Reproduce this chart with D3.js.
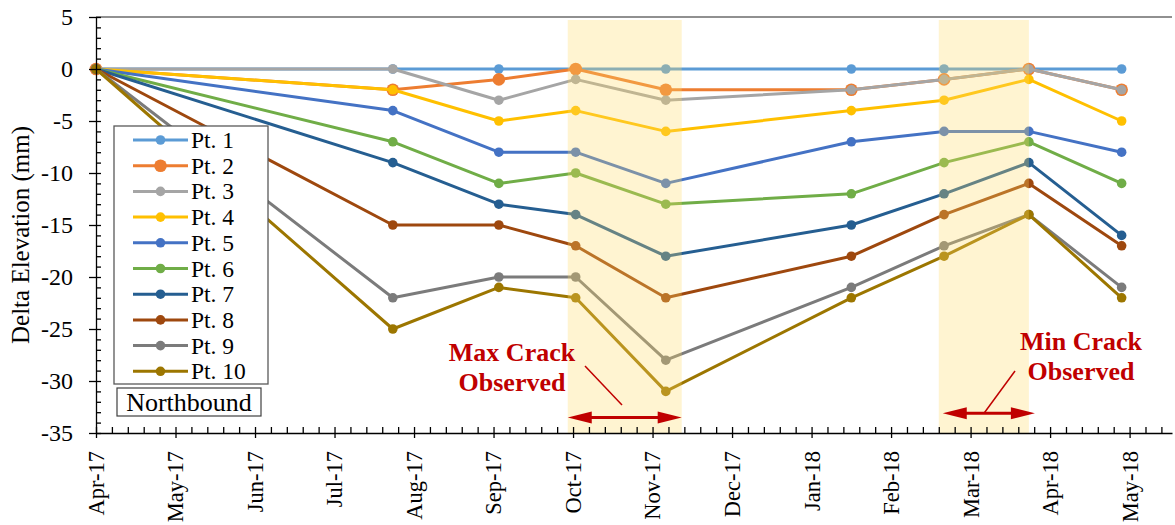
<!DOCTYPE html>
<html lang="en">
<head>
<meta charset="UTF-8">
<title>Delta Elevation - Northbound</title>
<script src="https://d3js.org/d3.v7.min.js"></script>
<style>
    body { margin: 0; background: #fff; }
    svg { display: block; font-family: 'Liberation Serif', 'Times New Roman', serif; }
</style>
</head>
<body>
<svg width="1175" height="525"></svg>
<script>
    // ---- data ----
    var axisStart = "2017-04-15";   // first tick, ticks every 30 days
    var surveyDates = ["2017-04-15", "2017-08-05", "2017-09-14", "2017-10-13", "2017-11-16",
                       "2018-01-25", "2018-03-01", "2018-04-02", "2018-05-07"];
    var seriesNames = ["Pt. 1", "Pt. 2", "Pt. 3", "Pt. 4", "Pt. 5", "Pt. 6", "Pt. 7", "Pt. 8", "Pt. 9", "Pt. 10"];
    var pt1  = [0,   0,   0,   0,   0,   0,   0,   0,   0];
    var pt2  = [0,  -2,  -1,   0,  -2,  -2,  -1,   0,  -2];
    var pt3  = [0,   0,  -3,  -1,  -3,  -2,  -1,   0,  -2];
    var pt4  = [0,  -2,  -5,  -4,  -6,  -4,  -3,  -1,  -5];
    var pt5  = [0,  -4,  -8,  -8, -11,  -7,  -6,  -6,  -8];
    var pt6  = [0,  -7, -11, -10, -13, -12,  -9,  -7, -11];
    var pt7  = [0,  -9, -13, -14, -18, -15, -12,  -9, -16];
    var pt8  = [0, -15, -15, -17, -22, -18, -14, -11, -17];
    var pt9  = [0, -22, -20, -20, -28, -21, -17, -14, -21];
    var pt10 = [0, -25, -21, -22, -31, -22, -18, -14, -22];
    var seriesValues = [pt1, pt2, pt3, pt4, pt5, pt6, pt7, pt8, pt9, pt10];
    var seriesColors = ["#5B9BD5", "#ED7D31", "#A5A5A5", "#FFC000", "#4472C4",
                        "#70AD47", "#255E91", "#9E480E", "#7B7B7B", "#9C7600"];
    var crackWindows = [["2017-10-10", "2017-11-22"], ["2018-02-27", "2018-04-02"]];
    var crackLabels = [["Max Crack", "Observed"], ["Min Crack", "Observed"]];
    var yTicks = d3.range(-35, 6, 5);

    var parse = d3.timeParse("%Y-%m-%d");
    var start = parse(axisStart);
    var dates = surveyDates.map(parse);

    var svg = d3.select("svg");
    var plotL = 96, plotR = 1172, plotT = 17, plotB = 433;

    var x = d3.scaleTime()
        .domain([start, d3.timeDay.offset(start, 406)])
        .range([plotL, plotR]);
    var y = d3.scaleLinear().domain([-35, 5]).range([plotB, plotT]);

    var majorX = d3.range(14).map(function(i) { return d3.timeDay.offset(start, 30 * i); });
    var minorX = d3.range(0, 406, 6).filter(function(d) { return d % 30 !== 0; })
        .map(function(d) { return d3.timeDay.offset(start, d); });
    var minorY = d3.range(-35, 6).filter(function(d) { return d % 5 !== 0; });

    // top border of the plot area
    svg.append("line")
        .attr("x1", plotL).attr("x2", plotR)
        .attr("y1", plotT).attr("y2", plotT)
        .attr("stroke", "#222").attr("stroke-width", 1.2);

    // ---- series ----
    var line = d3.line()
        .x(function(d, i) { return x(dates[i]); })
        .y(function(d) { return y(d); });

    seriesValues.forEach(function(vals, s) {
        var g = svg.append("g");
        g.append("path")
            .attr("d", line(vals))
            .attr("fill", "none")
            .attr("stroke", seriesColors[s])
            .attr("stroke-width", 3)
            .attr("stroke-linejoin", "round");
        g.selectAll("circle")
            .data(vals)
            .enter().append("circle")
            .attr("cx", function(d, i) { return x(dates[i]); })
            .attr("cy", function(d) { return y(d); })
            .attr("r", s === 1 ? 6.3 : 4.8)
            .attr("fill", seriesColors[s]);
    });

    // shaded crack windows drawn over the lines
    svg.selectAll("rect.band")
        .data(crackWindows)
        .enter().append("rect")
        .attr("class", "band")
        .attr("x", function(d) { return x(parse(d[0])); })
        .attr("width", function(d) { return x(parse(d[1])) - x(parse(d[0])); })
        .attr("y", plotT + 3)
        .attr("height", plotB - plotT - 3)
        .attr("fill", "#FFD966")
        .attr("opacity", 0.3);

    // ---- axes ----
    var xMinor = svg.append("g")
        .attr("transform", "translate(0," + plotB + ")")
        .call(d3.axisBottom(x).tickValues(minorX).tickSize(-6).tickSizeOuter(0).tickFormat(""));
    xMinor.select(".domain").remove();

    var xAxis = svg.append("g")
        .attr("transform", "translate(0," + plotB + ")")
        .call(d3.axisBottom(x).tickValues(majorX).tickSize(5).tickSizeOuter(0)
              .tickFormat(d3.timeFormat("%b-%y")));
    xAxis.selectAll(".tick line").attr("y1", -6);
    xAxis.selectAll("text")
        .attr("font-size", "22.5px")
        .attr("fill", "#000")
        .attr("font-family", "'Liberation Serif', serif")
        .attr("transform", "rotate(-90)")
        .attr("text-anchor", "end")
        .attr("x", -18).attr("y", 0).attr("dy", "0.33em");

    var yMinor = svg.append("g")
        .attr("transform", "translate(" + plotL + ",0)")
        .call(d3.axisLeft(y).tickValues(minorY).tickSize(-5).tickSizeOuter(0).tickFormat(""));
    yMinor.select(".domain").remove();

    var yAxis = svg.append("g")
        .attr("transform", "translate(" + plotL + ",0)")
        .call(d3.axisLeft(y).tickValues(yTicks).tickSize(7).tickSizeOuter(0)
              .tickFormat(function(d) { return String(d); }));
    yAxis.selectAll(".tick line").attr("x1", 5);
    yAxis.selectAll("text")
        .attr("font-size", "24px")
        .attr("fill", "#000")
        .attr("font-family", "'Liberation Serif', serif")
        .attr("x", -23);

    svg.selectAll(".domain, .tick line").attr("stroke", "#000").attr("stroke-width", 1.3);

    svg.append("text")
        .attr("transform", "translate(28.5,235) rotate(-90)")
        .attr("text-anchor", "middle")
        .attr("font-size", "25px")
        .text("Delta Elevation (mm)");

    // ---- crack annotations ----
    var red = "#C00000";
    function arrow(x1, x2, yy) {
        var head = 24, half = 6;
        svg.append("line")
            .attr("x1", x1 + head - 2).attr("x2", x2 - head + 2)
            .attr("y1", yy).attr("y2", yy)
            .attr("stroke", red).attr("stroke-width", 3);
        svg.append("path")
            .attr("d", "M" + x1 + "," + yy + "L" + (x1 + head) + "," + (yy - half) + "L" + (x1 + head) + "," + (yy + half) + "Z")
            .attr("fill", red);
        svg.append("path")
            .attr("d", "M" + x2 + "," + yy + "L" + (x2 - head) + "," + (yy - half) + "L" + (x2 - head) + "," + (yy + half) + "Z")
            .attr("fill", red);
    }

    var maxA = x(parse(crackWindows[0][0])), maxB = x(parse(crackWindows[0][1]));
    var minA = x(parse(crackWindows[1][0])), minB = x(parse(crackWindows[1][1]));
    arrow(maxA, maxB, y(-33.5));
    arrow(minA + 4, minB + 6, y(-33.1));

    svg.append("line")
        .attr("x1", 585).attr("y1", 366).attr("x2", 622).attr("y2", 405)
        .attr("stroke", red).attr("stroke-width", 1.5);
    svg.append("line")
        .attr("x1", 1015).attr("y1", 371).attr("x2", 984).attr("y2", y(-33.1))
        .attr("stroke", red).attr("stroke-width", 1.5);

    var labelPos = [[512, 361], [1081, 350]];
    crackLabels.forEach(function(lbl, k) {
        lbl.forEach(function(t, j) {
            svg.append("text")
                .attr("x", labelPos[k][0])
                .attr("y", labelPos[k][1] + j * 30)
                .attr("text-anchor", "middle")
                .attr("font-size", "26px")
                .attr("font-weight", "bold")
                .attr("fill", red)
                .text(t);
        });
    });

    // ---- legend ----
    var legend = svg.append("g");
    legend.append("rect")
        .attr("x", 114).attr("y", 126).attr("width", 154).attr("height", 258)
        .attr("fill", "#fff").attr("stroke", "#595959").attr("stroke-width", 1.3);

    var rows = legend.selectAll("g.row")
        .data(seriesNames)
        .enter().append("g")
        .attr("class", "row")
        .attr("transform", function(d, i) { return "translate(0," + (140 + i * 25.7) + ")"; });
    rows.append("line")
        .attr("x1", 133).attr("x2", 188)
        .attr("stroke", function(d, i) { return seriesColors[i]; })
        .attr("stroke-width", 3);
    rows.append("circle")
        .attr("cx", 160.5)
        .attr("r", function(d, i) { return i === 1 ? 6.3 : 4.8; })
        .attr("fill", function(d, i) { return seriesColors[i]; });
    rows.append("text")
        .attr("x", 191).attr("y", 8)
        .attr("font-size", "23.5px")
        .text(function(d) { return d; });

    svg.append("rect")
        .attr("x", 117).attr("y", 388).attr("width", 144).attr("height", 28)
        .attr("fill", "#fff").attr("stroke", "#404040").attr("stroke-width", 1.2);
    svg.append("text")
        .attr("x", 189).attr("y", 411)
        .attr("text-anchor", "middle")
        .attr("font-size", "26px")
        .text("Northbound");
</script>
</body>
</html>
